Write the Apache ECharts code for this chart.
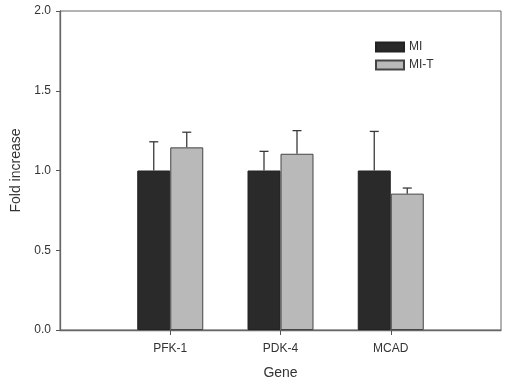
<!DOCTYPE html>
<html><head><meta charset="utf-8">
<script src="https://cdn.jsdelivr.net/npm/echarts@6/dist/echarts.min.js"></script>
<style>html,body{margin:0;padding:0;background:#fff}#c{width:506px;height:385px}</style>
</head><body><div id="c"></div>
<script>
const categories = ['PFK-1', 'PDK-4', 'MCAD'];
const miValues = [1.0, 1.0, 1.0];
const miErr = [0.18, 0.12, 0.245];
const mitValues = [1.145, 1.105, 0.855];
const mitErr = [0.095, 0.145, 0.035];
const yTicks = [0, 0.5, 1.0, 1.5, 2.0];

const axisData = [''].concat(categories, ['']);
const pad = arr => ['-'].concat(arr, ['-']);
const BW = 33;
function errData(vals, errs) {
  return vals.map((v, i) => [i + 1, v, v + errs[i]]);
}
function errRender(offset) {
  return function (params, api) {
    const c = api.coord([api.value(0), api.value(1)]);
    const t = api.coord([api.value(0), api.value(2)]);
    const x = c[0] + offset;
    const style = { stroke: '#3a3a3a', lineWidth: 1.3 };
    return { type: 'group', children: [
      { type: 'line', shape: { x1: x, y1: c[1], x2: x, y2: t[1] }, style },
      { type: 'line', shape: { x1: x - 4.5, y1: t[1], x2: x + 4.5, y2: t[1] }, style }
    ]};
  };
}
const chart = echarts.init(document.getElementById('c'), null, { renderer: 'canvas' });
const font = 'Liberation Sans, Arial, sans-serif';
chart.setOption({
  animation: false,
  textStyle: { fontFamily: font },
  grid: { left: 60, right: 5, top: 11, bottom: 54, show: true, borderColor: '#666', borderWidth: 1 },
  legend: {
    orient: 'vertical', left: 370, top: 36, itemWidth: 28, itemHeight: 9, itemGap: 6,
    icon: 'rect',
    textStyle: { fontSize: 12, color: '#333', fontFamily: font },
    data: ['MI', 'MI-T']
  },
  xAxis: {
    type: 'category', data: axisData, boundaryGap: false,
    name: 'Gene', nameLocation: 'middle', nameGap: 36,
    nameTextStyle: { fontSize: 14, color: '#333' },
    axisLine: { lineStyle: { color: '#666', width: 1.3 } },
    axisTick: { length: 5, lineStyle: { color: '#555' }, interval: (i, v) => v !== '' },
    axisLabel: { fontSize: 12, color: '#333', margin: 13, interval: 0 },
    splitLine: { show: false }
  },
  yAxis: {
    type: 'value', min: 0, max: 2, interval: 0.5,
    name: 'Fold increase', nameLocation: 'middle', nameGap: 36,
    nameTextStyle: { fontSize: 14, color: '#333' },
    axisLine: { show: true, lineStyle: { color: '#666', width: 1.3 } },
    axisTick: { show: true, length: 4, lineStyle: { color: '#555' } },
    axisLabel: { fontSize: 12, color: '#333', margin: 9,
      formatter: v => { const t = yTicks.find(y => Math.abs(y - v) < 1e-9); return t === undefined ? '' : t.toFixed(1); } },
    splitLine: { show: false }
  },
  series: [
    { name: 'MI', type: 'bar', data: pad(miValues), barWidth: BW, barGap: '0%',
      itemStyle: { color: '#2a2a2a', borderColor: '#222', borderWidth: 1 } },
    { name: 'MI-T', type: 'bar', data: pad(mitValues), barWidth: BW, barGap: '0%',
      itemStyle: { color: '#b9b9b9', borderColor: '#444', borderWidth: 1 } },
    { type: 'custom', renderItem: errRender(-BW / 2), data: errData(miValues, miErr), z: 3, encode: { x: 0, y: [1, 2] } },
    { type: 'custom', renderItem: errRender(BW / 2), data: errData(mitValues, mitErr), z: 3, encode: { x: 0, y: [1, 2] } }
  ]
});
</script></body></html>
